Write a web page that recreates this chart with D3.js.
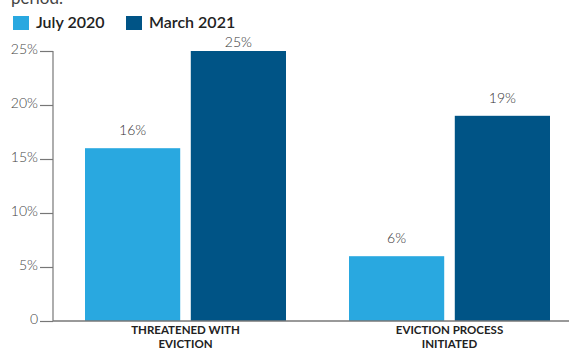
<!DOCTYPE html>
<html><head><meta charset="utf-8">
<script src="https://cdn.jsdelivr.net/npm/d3@7"></script>
<style>
html,body{margin:0;padding:0;background:#fff;}
svg{display:block;font-family:Lato, "Open Sans", sans-serif;}
</style></head><body>
<svg id="chart" width="569" height="352"></svg>
<script>
const categories = [["THREATENED WITH","EVICTION"],["EVICTION PROCESS","INITIATED"]];
const seriesNames = ["July 2020","March 2021"];
const july2020 = [16, 6];
const march2021 = [25, 19];
const yTicks = [0,5,10,15,20,25];
const colors = ["#29a8e0","#005486"];

const svg = d3.select("#chart");
const x0 = 53, xEnd = 569, yBase = 321, yTop = 51;
const y = d3.scaleLinear().domain([0,25]).range([yBase,yTop]);
const gx = d3.scaleOrdinal().domain([0,1]).range([85,349]);
const inner = d3.scaleBand().domain([0,1]).range([0,201]).paddingInner(0.1);

// top cut-off text
svg.append("text").attr("x",11).attr("y",4).attr("font-size",17).attr("fill","#444").text("period.");

// legend
seriesNames.forEach((n,i)=>{
  const lx = [13,126][i];
  svg.append("rect").attr("x",lx).attr("y",16).attr("width",16).attr("height",14).attr("fill",colors[i]);
  svg.append("text").attr("x",lx+23).attr("y",28).attr("font-size",16).attr("font-weight",600).attr("fill","#222").text(n);
});

// y axis
const axis = d3.axisLeft(y).tickValues(yTicks).tickSize(13).tickFormat(d=> d===0 ? "0" : d+"%");
const ga = svg.append("g").attr("transform",`translate(${x0},0)`).call(axis);
ga.select(".domain").attr("stroke","#777").attr("stroke-width",1.2).attr("d",`M0,${yTop}V${yBase}`);
ga.selectAll(".tick line").attr("stroke","#777").attr("stroke-width",1.2);
ga.selectAll(".tick text").attr("font-size",14).attr("font-weight",300).attr("fill","#444").attr("font-family","Lato, 'Open Sans', sans-serif").attr("x",-15).attr("dy","0.2em");

// bars
const series = [july2020, march2021];
series.forEach((vals,s)=>{
  vals.forEach((v,c)=>{
    const bx = gx(c) + inner(s);
    svg.append("rect").attr("x",bx).attr("y",y(v)).attr("width",inner.bandwidth()).attr("height",yBase-y(v)).attr("fill",colors[s]);
    svg.append("text").attr("x",bx+inner.bandwidth()/2).attr("y",Math.max(y(v)-13,47)).attr("text-anchor","middle")
      .attr("font-size",14).attr("font-weight",300).attr("fill","#333").text(v+"%");
  });
});

// baseline
svg.append("line").attr("x1",x0).attr("x2",xEnd).attr("y1",yBase).attr("y2",yBase).attr("stroke","#777").attr("stroke-width",1.5);

// category labels
categories.forEach((lines,c)=>{
  const cx = gx(c) + 201/2;
  lines.forEach((t,i)=>{
    svg.append("text").attr("x",cx).attr("y",334+i*14).attr("text-anchor","middle")
      .attr("font-size",11.5).attr("font-weight",700).attr("fill","#222").text(t);
  });
});
</script>
</body></html>
